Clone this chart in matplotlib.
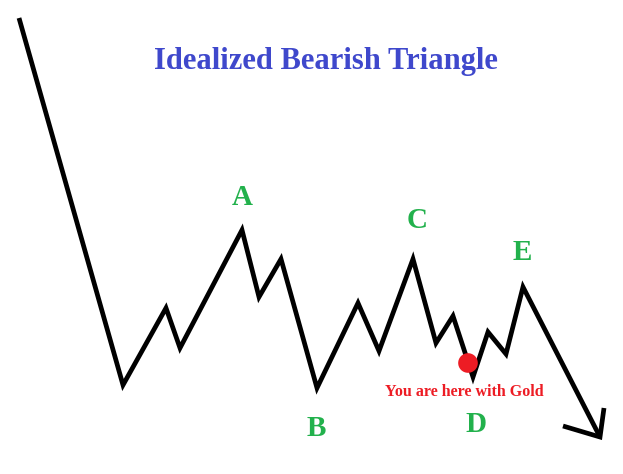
import matplotlib
matplotlib.use('Agg')
import matplotlib.pyplot as plt

# zigzag path of the idealized pattern (x = time, y = price, pixel-ish units)
path_x = [19, 123, 166, 180, 242, 259, 281, 317, 358, 379, 413, 436, 453, 473, 488, 506, 523, 600]
path_y = [456, 89, 166, 126, 244, 177, 215, 86, 171, 123, 215, 131, 158, 97, 142, 120, 187, 37]

# arrow head strokes at the end of the path
head_x = [563, 600, 604]
head_y = [48, 37, 66]

# wave labels
wave_names = ['A', 'B', 'C', 'D', 'E']
wave_x = [242, 316, 417, 476, 522]
wave_y = [277, 46, 254, 49, 222]

# current position marker
here_x = [468]
here_y = [111]
here_text = 'You are here with Gold'
here_text_pos = (464, 82)

title = 'Idealized Bearish Triangle'

fig = plt.figure(figsize=(6.23, 4.74), dpi=100)
ax = fig.add_axes([0, 0, 1, 1])
ax.set_xlim(0, 623)
ax.set_ylim(0, 474)
ax.axis('off')

line_kw = dict(color='black', lw=3.4, solid_joinstyle='miter', solid_capstyle='butt')
ax.plot(path_x, path_y, **line_kw)
ax.plot(head_x, head_y, **line_kw)

ax.scatter(here_x, here_y, s=200, color='#ed1c24', zorder=3, edgecolors='none')

for name, x, y in zip(wave_names, wave_x, wave_y):
    ax.text(x, y, name, color='#22b14c', fontsize=21, fontweight='bold',
            family='Liberation Serif', ha='center', va='center')

ax.text(here_text_pos[0], here_text_pos[1], here_text, color='#ed1c24', fontsize=11.5,
        fontweight='bold', family='Liberation Serif', ha='center', va='center')

ax.text(326, 413, title, color='#3f48cc', fontsize=22, fontweight='bold',
        family='Liberation Serif', ha='center', va='center')

fig.savefig('out.png', dpi=100)
